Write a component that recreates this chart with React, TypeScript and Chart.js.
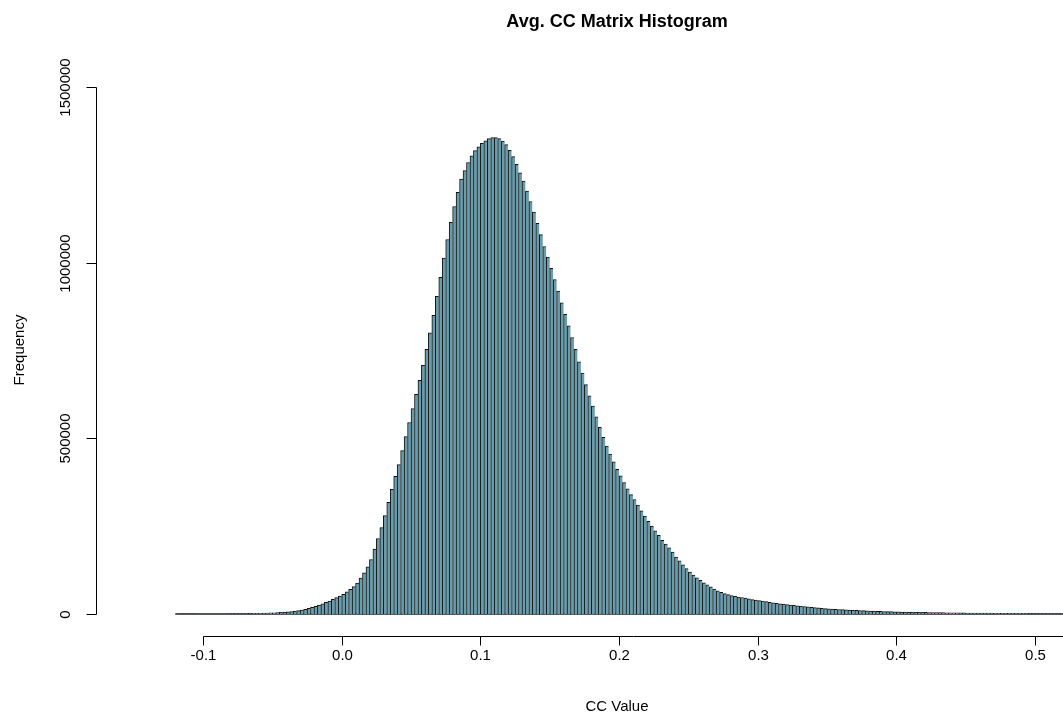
import { useEffect, useRef } from 'react';
import { Chart, registerables } from 'chart.js';

Chart.register(...registerables);

const chartTitle = 'Avg. CC Matrix Histogram';
const xAxisTitle = 'CC Value';
const yAxisTitle = 'Frequency';

const binStart = -0.12;
const binWidth = 0.0025;

const counts = [
  110, 140, 160, 190,
  210, 240, 260, 290,
  320, 370, 420, 470,
  530, 610, 690, 770,
  860, 980, 1110, 1240,
  1400, 1600, 1800, 2000,
  2250, 2600, 2900, 3250,
  3650, 4200, 4700, 5250,
  6000, 7000, 8200, 9400,
  11000, 13500, 16000, 18800,
  21500, 25000, 29000, 33000,
  37000, 41500, 46500, 51000,
  56000, 63000, 70000, 78000,
  88000, 102000, 117000, 134000,
  155000, 185000, 215000, 246000,
  280000, 318000, 355000, 392000,
  425000, 465000, 505000, 545000,
  585000, 625000, 665000, 708000,
  753000, 800000, 850000, 904000,
  958000, 1013000, 1066000, 1115000,
  1160000, 1200000, 1238000, 1262000,
  1285000, 1304000, 1319000, 1330000,
  1340000, 1347000, 1353000, 1356000,
  1356000, 1353000, 1346000, 1336000,
  1320000, 1302000, 1280000, 1256000,
  1232000, 1204000, 1174000, 1144000,
  1112000, 1080000, 1046000, 1016000,
  984000, 952000, 919000, 886000,
  853000, 820000, 787000, 753000,
  718000, 686000, 653000, 621000,
  592000, 561000, 531000, 503000,
  478000, 455000, 433000, 412000,
  393000, 374000, 356000, 340000,
  326000, 310000, 294000, 279000,
  264000, 250000, 237000, 224000,
  210000, 199000, 188000, 176000,
  162000, 151000, 140000, 129000,
  119000, 111000, 103000, 96000,
  89000, 83000, 77000, 71000,
  66000, 62000, 58000, 55000,
  52500, 50500, 48500, 47000,
  45000, 43000, 41000, 39500,
  38000, 36500, 35000, 33500,
  32000, 30500, 29000, 28000,
  26800, 25700, 24600, 23500,
  22400, 21300, 20200, 19200,
  18200, 17300, 16400, 15500,
  14800, 14200, 13500, 12900,
  12300, 11800, 11200, 10700,
  10300, 9800, 9400, 9000,
  8600, 8300, 7900, 7600,
  7200, 6900, 6600, 6300,
  6050, 5800, 5600, 5400,
  5200, 5000, 4800, 4600,
  4450, 4300, 4150, 4000,
  3850, 3700, 3550, 3400,
  3300, 3200, 3100, 3000,
  2900, 2800, 2700, 2600,
  2500, 2430, 2360, 2290,
  2220, 2150, 2080, 2010,
  1950, 1900, 1850, 1800,
  1750, 1700, 1650, 1600,
  1550, 1500, 1460, 1420,
  1380, 1340, 1300, 1260,
];

const xTickValues = [-0.1, 0, 0.1, 0.2, 0.3, 0.4, 0.5, 0.6];
const xTickLabels = ['-0.1', '0.0', '0.1', '0.2', '0.3', '0.4', '0.5', '0.6'];
const yTickValues = [0, 500000, 1000000, 1500000];
const yTickLabels = ['0', '500000', '1000000', '1500000'];

const FONT = '"Liberation Sans", Arial, Helvetica, sans-serif';
const FILL = '#6a9dac';

const rAxes = {
  id: 'rAxes',
  beforeDatasetsDraw(chart: any) {
    const { ctx, scales, chartArea } = chart;
    const x = scales.x;
    const y = scales.y;
    ctx.save();
    ctx.strokeStyle = '#222';
    ctx.lineWidth = 1.6;
    const y0 = y.getPixelForValue(0);
    ctx.beginPath();
    ctx.moveTo(x.getPixelForValue(binStart), y0);
    ctx.lineTo(chartArea.right, y0);
    ctx.stroke();
    ctx.restore();
  },
  afterDraw(chart: any) {
    const { ctx, scales, chartArea } = chart;
    const x = scales.x;
    const y = scales.y;
    ctx.save();
    ctx.strokeStyle = '#000';
    ctx.fillStyle = '#000';
    ctx.lineWidth = 1;

    // x axis
    const axisY = Math.round(chartArea.bottom) + 0.5;
    const xFirst = x.getPixelForValue(xTickValues[0]);
    const xLast = x.getPixelForValue(xTickValues[xTickValues.length - 1]);
    ctx.beginPath();
    ctx.moveTo(Math.round(xFirst) + 0.5, axisY);
    ctx.lineTo(Math.round(xLast) + 0.5, axisY);
    ctx.stroke();
    ctx.font = `15px ${FONT}`;
    ctx.textAlign = 'center';
    ctx.textBaseline = 'alphabetic';
    xTickValues.forEach((v, i) => {
      const px = Math.round(x.getPixelForValue(v)) + 0.5;
      ctx.beginPath();
      ctx.moveTo(px, axisY);
      ctx.lineTo(px, axisY + 9);
      ctx.stroke();
      ctx.fillText(xTickLabels[i], px, axisY + 23);
    });

    // y axis
    const axisX = Math.round(chartArea.left) + 0.5;
    ctx.beginPath();
    ctx.moveTo(axisX, Math.round(y.getPixelForValue(yTickValues[0])) + 0.5);
    ctx.lineTo(axisX, Math.round(y.getPixelForValue(yTickValues[yTickValues.length - 1])) + 0.5);
    ctx.stroke();
    yTickValues.forEach((v, i) => {
      const py = Math.round(y.getPixelForValue(v)) + 0.5;
      ctx.beginPath();
      ctx.moveTo(axisX, py);
      ctx.lineTo(axisX - 10, py);
      ctx.stroke();
      ctx.save();
      ctx.translate(axisX - 27, py);
      ctx.rotate(-Math.PI / 2);
      ctx.fillText(yTickLabels[i], 0, 0);
      ctx.restore();
    });

    // axis titles
    ctx.fillText(xAxisTitle, 617, 711);
    ctx.save();
    ctx.translate(24, 350);
    ctx.rotate(-Math.PI / 2);
    ctx.fillText(yAxisTitle, 0, 0);
    ctx.restore();

    // main title
    ctx.font = `bold 18px ${FONT}`;
    ctx.fillText(chartTitle, 617, 27);
    ctx.restore();
  },
};

export default function App() {
  const ref = useRef<HTMLCanvasElement>(null);
  useEffect(() => {
    const data = counts.map((c, i) => ({ x: binStart + binWidth * (i + 0.5), y: c }));
    const chart = new Chart(ref.current as HTMLCanvasElement, {
      type: 'bar',
      data: {
        datasets: [
          {
            data,
            backgroundColor: FILL,
            borderColor: '#111',
            borderWidth: { left: 1, top: 1, right: 0, bottom: 0 },
            borderSkipped: false,
            barPercentage: 1,
            categoryPercentage: 1,
          } as any,
        ],
      },
      options: {
        animation: false,
        responsive: true,
        maintainAspectRatio: false,
        events: [],
        layout: { padding: { left: 96, right: 0, top: 60, bottom: 86 } },
        plugins: {
          legend: { display: false },
          tooltip: { enabled: false },
          title: { display: false },
        },
        scales: {
          x: { type: 'linear', display: false, min: -0.17718, max: 0.52016, offset: false },
          y: { type: 'linear', display: false, min: -62620, max: 1576860 },
        },
      },
      plugins: [rAxes],
    });
    return () => chart.destroy();
  }, []);
  return (
    <div style={{ position: 'fixed', left: 0, top: 0, width: 1063, height: 722, background: '#fff' }}>
      <canvas ref={ref} />
    </div>
  );
}
